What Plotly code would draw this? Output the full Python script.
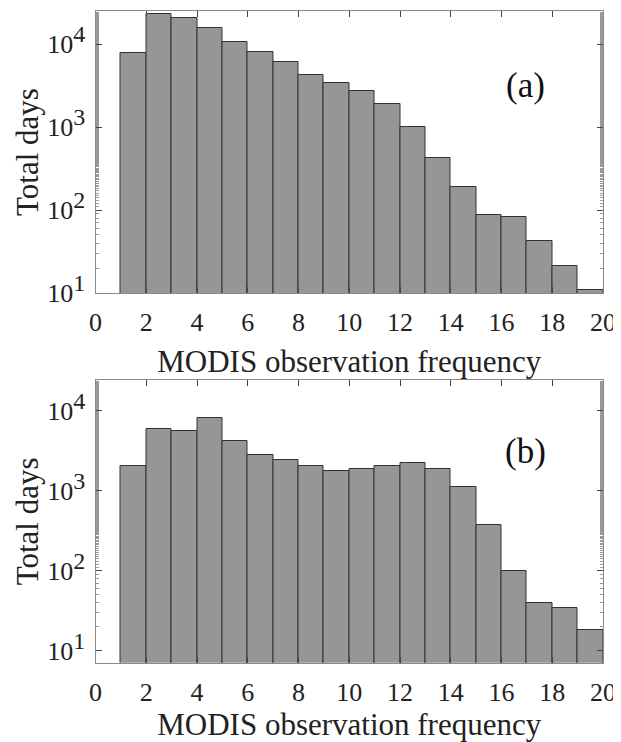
import plotly.graph_objects as go

bin_left = [1, 2, 3, 4, 5, 6, 7, 8, 9, 10, 11, 12, 13, 14, 15, 16, 17, 18, 19]
days_a = [7900, 22900, 20500, 15700, 10500, 8000, 6000, 4250, 3400, 2730, 1870, 1000,
          428, 187, 88, 82, 42, 21.3, 11]
days_b = [2015, 5840, 5520, 8200, 4220, 2820, 2440, 2015, 1745, 1848, 2015, 2240,
          1884, 1100, 369, 98, 39, 34, 18]
x_ticks = [0, 2, 4, 6, 8, 10, 12, 14, 16, 18, 20]
y_ticks = [10, 100, 1000, 10000]
y_exponents = ["1", "2", "3", "4"]
panel_labels = ["(a)", "(b)"]
y_title = "Total days"
x_title = "MODIS observation frequency"

FONT = "Liberation Serif"
BAR_COLOR = "#969696"
EDGE = "#333333"
AXIS = "#8a8a8a"
TICK_SIZE = 26
TITLE_SIZE = 31

# page body has an 8px margin, so the figure is sized to the remaining window
W, H, OFF = 613, 734, 8

y_ticktext = ['10<sup><span style="font-size:24px">%s</span></sup>' % e for e in y_exponents]

fig = go.Figure()
centers = [b + 0.5 for b in bin_left]

fig.add_trace(go.Bar(x=centers, y=days_a, width=1, marker=dict(color=BAR_COLOR, line=dict(color=EDGE, width=1)),
                     xaxis="x", yaxis="y", showlegend=False))
fig.add_trace(go.Bar(x=centers, y=days_b, width=1, marker=dict(color=BAR_COLOR, line=dict(color=EDGE, width=1)),
                     xaxis="x2", yaxis="y2", showlegend=False))

xdom = [(95.5 - OFF) / W, (603 - OFF) / W]
ydom_a = [1 - (293 - OFF) / H, 1 - (11 - OFF) / H]
ydom_b = [1 - (662.7 - OFF) / H, 1 - (380 - OFF) / H]


def x_axis(standoff):
    return dict(range=[0, 20], tickvals=x_ticks, ticks="inside", ticklen=6, tickcolor="#444",
                showline=True, linecolor=AXIS, linewidth=1, mirror="ticks", showgrid=False, zeroline=False,
                automargin=False, ticklabelstandoff=6,
                tickfont=dict(family=FONT, size=TICK_SIZE, color="#222"),
                title=dict(text=x_title, font=dict(family=FONT, size=TITLE_SIZE, color="#222"),
                           standoff=standoff))


common_y = dict(type="log", tickvals=y_ticks, ticktext=y_ticktext, ticks="inside", ticklen=6, tickcolor="#444",
                showline=True, linecolor=AXIS, linewidth=1, mirror="ticks", showgrid=False, zeroline=False,
                automargin=False, ticklabelstandoff=4,
                minor=dict(ticks="inside", ticklen=3, tickcolor="#999", showgrid=False),
                tickfont=dict(family=FONT, size=TICK_SIZE, color="#222"))

fig.update_layout(
    width=W, height=H, margin=dict(l=0, r=0, t=0, b=0),
    paper_bgcolor="white", plot_bgcolor="white", bargap=0,
    xaxis=dict(domain=xdom, anchor="y", **x_axis(14)),
    yaxis=dict(domain=ydom_a, anchor="x", range=[1, 4.398], **common_y),
    xaxis2=dict(domain=xdom, anchor="y2", **x_axis(11)),
    yaxis2=dict(domain=ydom_b, anchor="x2", range=[0.85, 4.383], **common_y),
)

# y-axis titles (placed as rotated text beside each panel)
for dom in (ydom_a, ydom_b):
    fig.add_annotation(x=(27 - OFF) / W, y=(dom[0] + dom[1]) / 2, xref="paper", yref="paper",
                       text=y_title, textangle=-90, showarrow=False, xanchor="center", yanchor="middle",
                       font=dict(family=FONT, size=TITLE_SIZE, color="#222"))

fig.add_annotation(x=16.93, y=3.506, xref="x", yref="y", text=panel_labels[0], showarrow=False,
                   font=dict(family=FONT, size=35, color="#111"))
fig.add_annotation(x=16.93, y=3.495, xref="x2", yref="y2", text=panel_labels[1], showarrow=False,
                   font=dict(family=FONT, size=35, color="#111"))

fig.write_html("out.html")
